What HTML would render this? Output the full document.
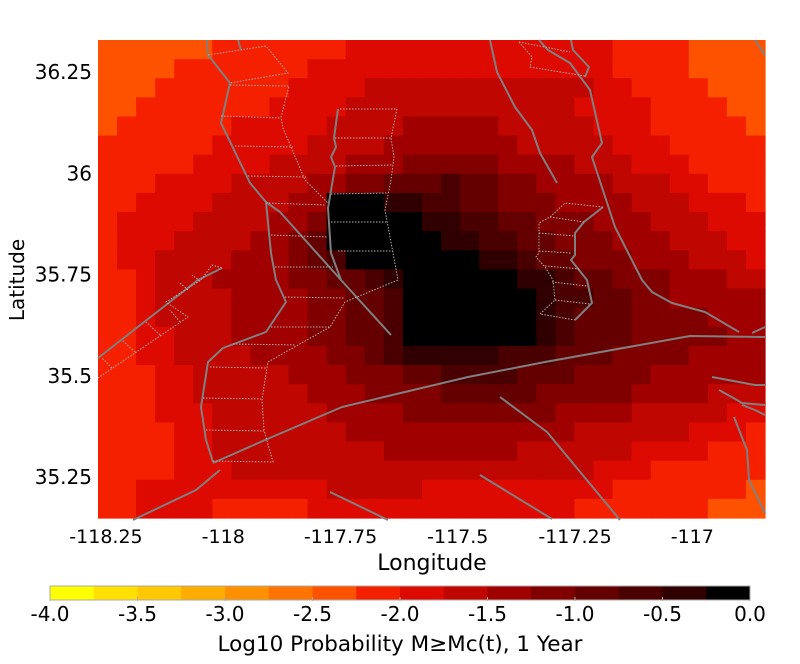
<!DOCTYPE html>
<html><head><meta charset="utf-8"><style>
html,body{margin:0;padding:0;background:#fff;}
svg{display:block;font-family:"DejaVu Sans","Liberation Sans",sans-serif;}
</style></head><body>
<svg id="chart" width="800" height="664" viewBox="0 0 800 664" xmlns="http://www.w3.org/2000/svg">
<g id="heat"></g>
<g id="faults" fill="none" stroke="#808080" stroke-width="2" stroke-linejoin="round"></g>
<g id="dots" fill="none" stroke="#b0b0b0" stroke-width="1" stroke-dasharray="1.5,1.5"></g>
<g id="xticks" font-size="19" text-anchor="middle"></g>
<g id="yticks" font-size="20" text-anchor="end"></g>
<text x="432" y="570" font-size="22" text-anchor="middle">Longitude</text>
<text x="0" y="0" font-size="20" text-anchor="middle" transform="translate(24,280) rotate(-90)">Latitude</text>
<g id="cbar"></g>
<text x="400" y="651" font-size="21.5" text-anchor="middle">Log10 Probability M≥Mc(t), 1 Year</text>
</svg>
<script>
// ---- data ----
const levelColors = ["#ffff00","#ffe000","#ffc800","#ffac00","#ff9000","#ff7400","#ff5200","#f42000","#dc0a00","#c00600","#a00000","#800000","#640000","#4a0000","#300000","#000000"];
const levelValues = [-4.0,-3.75,-3.5,-3.25,-3.0,-2.75,-2.5,-2.25,-2.0,-1.75,-1.5,-1.25,-1.0,-0.75,-0.5,-0.25];
const cbarTicks = [-4.0,-3.5,-3.0,-2.5,-2.0,-1.5,-1.0,-0.5,0.0];
const lonTicks = [-118.25,-118,-117.75,-117.5,-117.25,-117];
const latTicks = [36.25,36,35.75,35.5,35.25];
const lonRange = [-118.267,-116.845];
const latRange = [35.149,36.329];
// grid rows (north to south), run-length: levelIndex(hex) x count
const gridRows = [
"6x6 7x7 8x14 7x4 6x4",
"6x4 7x7 8x16 7x4 6x4",
"6x3 7x7 8x4 9x12 8x2 7x4 6x3",
"6x2 7x7 8x4 9x12 8x4 7x4 6x2",
"6x1 7x6 8x5 9x4 ax5 9x5 8x3 7x5 6x1",
"7x6 8x5 9x4 ax7 9x5 8x3 7x5",
"7x5 8x4 9x4 ax3 bx5 ax4 9x3 8x3 7x4",
"7x3 8x4 9x4 ax2 bx2 cx3 dx1 cx2 bx2 ax4 9x3 8x2 7x3",
"7x2 8x4 9x4 ax2 fx3 ex2 dx2 cx2 bx3 ax4 9x3 8x3 7x1",
"7x1 8x4 9x4 ax2 bx1 fx5 ex2 dx2 cx2 bx3 ax3 9x3 8x3",
"7x1 8x3 9x4 ax2 bx1 cx1 fx6 ex2 dx2 cx2 bx3 ax3 9x3 8x2",
"7x1 8x2 9x4 ax3 bx1 cx1 dx1 fx7 ex2 dx1 cx2 bx3 ax3 9x3 8x1",
"7x2 8x1 9x3 ax4 bx2 cx2 dx1 ex1 fx6 ex2 dx1 cx2 bx3 ax3 9x2",
"7x2 8x1 9x4 ax4 bx2 cx2 dx1 fx7 ex1 dx2 cx2 bx2 ax5",
"7x2 8x1 9x4 ax4 bx2 cx2 dx1 fx7 ex1 dx1 cx3 bx4 ax3",
"7x2 8x2 9x3 ax4 bx2 cx2 dx1 fx7 ex1 dx1 cx3 bx5 ax2",
"7x2 8x2 9x4 ax4 bx2 cx1 dx1 ex5 dx3 cx3 bx4 ax4",
"7x3 8x2 9x5 ax3 bx3 cx2 dx4 cx3 bx4 ax6",
"7x3 8x2 9x6 ax3 bx4 cx5 bx5 ax4 9x3",
"7x3 8x3 9x6 ax4 bx8 ax4 9x5 8x2",
"7x4 8x2 9x7 ax12 9x6 8x3 7x1",
"7x4 8x2 9x9 ax7 9x6 8x4 7x3",
"7x4 8x3 9x19 8x3 7x6",
"7x2 8x10 9x5 8x10 7x7 6x1",
"7x2 8x4 7x5 8x14 7x7 6x3"
];
// fault traces (pixel overlay coordinates of the map)
const faultLines = [
[[213,463],[265,440],[342,407],[468,377],[545,362],[690,336],[765,337]],
[[207,40],[208,55],[230,83],[221,123],[250,183],[266,202],[280,212],[341,280],[391,335]],
[[266,202],[271,253],[276,280],[286,302],[266,332],[223,348],[208,362],[201,407],[206,440],[213,462]],
[[338,109],[334,138],[336,147],[331,157],[335,167],[328,208],[331,253],[341,280]],
[[238,40],[241,50]],
[[490,40],[497,72],[515,107],[532,130],[540,153],[557,183]],
[[539,40],[548,50],[570,63],[590,90],[602,143],[592,157],[615,227],[642,280],[652,292],[672,303],[705,312],[739,332]],
[[571,40],[573,50],[589,67],[585,77]],
[[603,207],[584,222],[575,233],[575,255],[571,260],[579,270],[587,280],[592,303],[575,320]],
[[752,333],[765,327]],
[[712,377],[755,385],[765,385]],
[[719,390],[737,400],[742,403],[765,405]],
[[742,405],[755,410],[765,415]],
[[734,417],[747,450],[749,480],[765,513]],
[[500,397],[547,432],[620,520]],
[[480,475],[552,519]],
[[330,492],[388,520]],
[[220,470],[196,490],[133,520]],
[[98,358],[198,280],[222,268]],
[[755,40],[765,55]]
];
const dottedLines = [
[[208,55],[266,46],[288,73],[230,83]],
[[230,85],[289,86],[281,117],[283,128],[305,180],[328,203]],
[[221,116],[281,118]],[[235,146],[293,147]],[[248,176],[306,177]],[[266,203],[326,205]],[[271,235],[328,237]],[[275,267],[333,267]],
[[340,109],[397,109],[391,138],[394,157],[391,180],[385,210],[398,280],[345,302],[330,327],[298,345],[268,362],[265,380],[262,400],[264,430],[273,462],[213,461]],
[[335,138],[391,138]],[[336,166],[393,165]],[[331,194],[388,193]],[[331,222],[387,222]],[[338,251],[393,251]],
[[285,297],[344,298]],[[271,327],[330,327]],[[233,344],[296,345]],[[210,367],[266,368]],[[203,398],[261,399]],[[206,430],[264,431]],
[[603,207],[565,203],[550,217],[539,223],[539,253],[536,257],[545,267],[553,280],[555,300],[540,314],[575,320]],
[[550,217],[584,222]],[[539,233],[575,236]],[[539,251],[571,253]],[[545,266],[580,269]],[[552,282],[587,286]],[[555,300],[590,304]],
[[519,42],[570,52]],[[519,42],[532,57],[530,67],[585,76]],
[[98,378],[188,317],[166,302],[201,280],[212,265],[222,268]],
[[112,368],[102,358]],[[135,352],[122,340]],[[160,335],[146,322]],[[180,322],[170,310]],[[188,290],[180,283]],[[200,281],[192,275]]
];
</script>
<script>
const NS="http://www.w3.org/2000/svg";
const X0=98,X1=765,Y0=40,Y1=518;
function xScale(lon){return X0+(lon-lonRange[0])/(lonRange[1]-lonRange[0])*(X1-X0);}
function yScale(lat){return Y0+(latRange[1]-lat)/(latRange[1]-latRange[0])*(Y1-Y0);}
function decodeRow(s){
  let out=[];
  s.split(' ').forEach(tok=>{const [l,n]=tok.split('x');for(let i=0;i<+n;i++)out.push(parseInt(l,16));});
  return out;
}
const heat=document.getElementById('heat');
const nR=gridRows.length,nC=35;
const dLon=(lonRange[1]-lonRange[0])/nC,dLat=(latRange[1]-latRange[0])/nR;
for(let r=0;r<nR;r++){
  const row=decodeRow(gridRows[r]);
  for(let c=0;c<nC;c++){
    const lv=row[c]!==undefined?row[c]:row[row.length-1];
    const lon=lonRange[0]+c*dLon,lat=latRange[1]-r*dLat;
    const x=xScale(lon),y=yScale(lat),x2=xScale(lon+dLon),y2=yScale(lat-dLat);
    const rect=document.createElementNS(NS,'rect');
    
    
    rect.setAttribute('x',x.toFixed(2));rect.setAttribute('y',y.toFixed(2));
    rect.setAttribute('width',(x2-x+0.6).toFixed(2));rect.setAttribute('height',(y2-y+0.6).toFixed(2));
    rect.setAttribute('fill',levelColors[lv]);
    heat.appendChild(rect);
  }
}
function drawLines(group,list,name){
  list.forEach(pts=>{
    const p=document.createElementNS(NS,'polyline');
    
    
    p.setAttribute('points',pts.map(q=>q.join(',')).join(' '));
    group.appendChild(p);
  });
}
drawLines(document.getElementById('faults'),faultLines,'fault-trace');
drawLines(document.getElementById('dots'),dottedLines,'fault-segment-outline');
const xt=document.getElementById('xticks');
lonTicks.forEach(v=>{
  const t=document.createElementNS(NS,'text');
  
  
  t.setAttribute('x',xScale(v));t.setAttribute('y',543);
  t.textContent=String(v);xt.appendChild(t);
});
const yt=document.getElementById('yticks');
latTicks.forEach(v=>{
  const t=document.createElementNS(NS,'text');
  
  
  t.setAttribute('x',92);t.setAttribute('y',yScale(v)+7);
  t.textContent=String(v);yt.appendChild(t);
});
const cb=document.getElementById('cbar');
const CB0=50,CB1=750,CBy=586,CBh=14;
function cScale(v){return CB0+(v+4)/4*(CB1-CB0);}
levelValues.forEach((v,i)=>{
  const r=document.createElementNS(NS,'rect');
  
  
  r.setAttribute('x',cScale(v));r.setAttribute('y',CBy);
  r.setAttribute('width',cScale(v+0.25)-cScale(v)+0.3);r.setAttribute('height',CBh);
  r.setAttribute('fill',levelColors[i]);cb.appendChild(r);
});
const fr=document.createElementNS(NS,'rect');


fr.setAttribute('x',CB0);fr.setAttribute('y',CBy);fr.setAttribute('width',CB1-CB0);fr.setAttribute('height',CBh);
fr.setAttribute('fill','none');fr.setAttribute('stroke','#aaa');fr.setAttribute('stroke-width','1');cb.appendChild(fr);
cbarTicks.forEach(v=>{
  const l=document.createElementNS(NS,'line');
  
  
  l.setAttribute('x1',cScale(v));l.setAttribute('x2',cScale(v));l.setAttribute('y1',CBy+CBh-3);l.setAttribute('y2',CBy+CBh+1);
  l.setAttribute('stroke','#aaa');cb.appendChild(l);
  const t=document.createElementNS(NS,'text');
  
  
  t.setAttribute('x',cScale(v));t.setAttribute('y',621);t.setAttribute('font-size','20');t.setAttribute('text-anchor','middle');
  t.textContent=v.toFixed(1);cb.appendChild(t);
});
</script>
</body></html>
